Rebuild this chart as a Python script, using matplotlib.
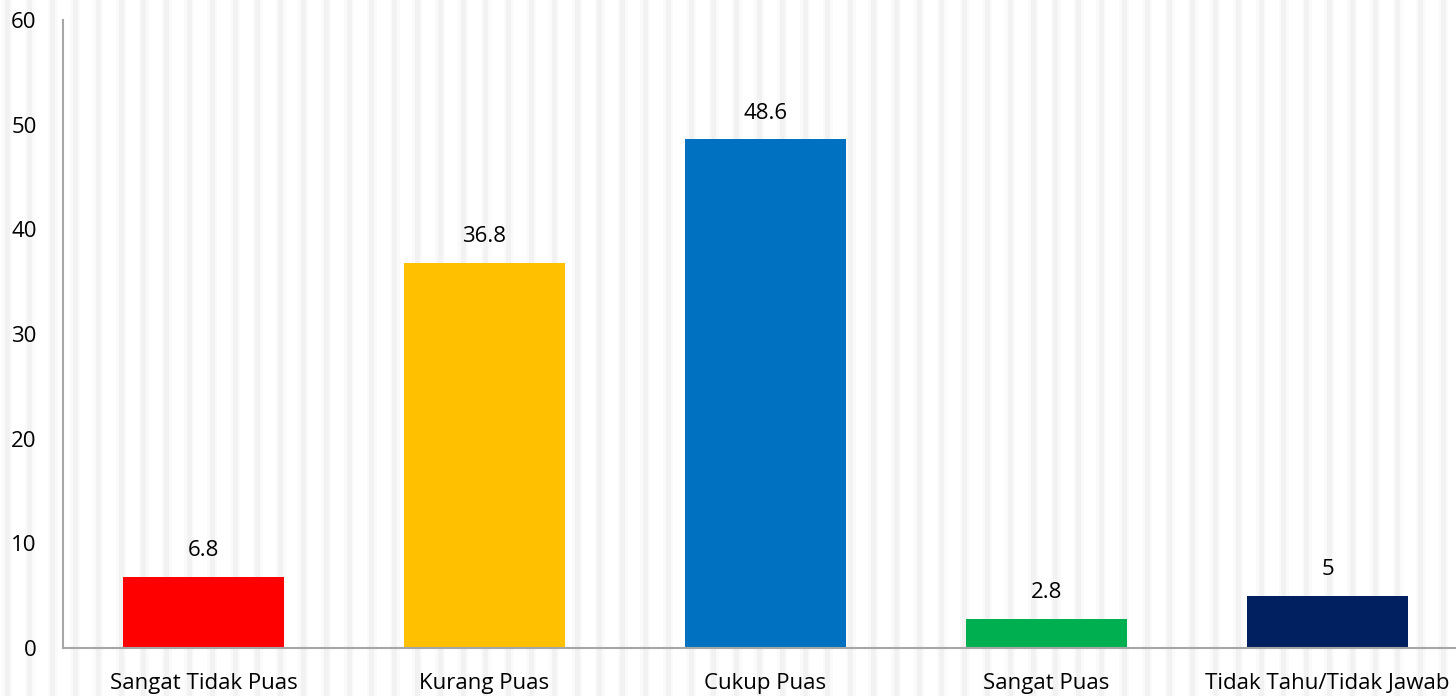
import numpy as np
import matplotlib.pyplot as plt
from matplotlib.patches import Rectangle

categories = ['Sangat Tidak Puas', 'Kurang Puas', 'Cukup Puas', 'Sangat Puas', 'Tidak Tahu/Tidak Jawab']
values = [6.8, 36.8, 48.6, 2.8, 5]
labels = ['6.8', '36.8', '48.6', '2.8', '5']
colors = ['#ff0000', '#ffc000', '#0070c0', '#00b050', '#002060']
yticks = [0, 10, 20, 30, 40, 50, 60]

plt.rcParams['font.family'] = ['Open Sans', 'DejaVu Sans']

W, H = 1456, 696
fig = plt.figure(figsize=(W / 100, H / 100), dpi=100)

# faint vertical stripes over the whole background
for x0 in np.arange(7, W, 22.8):
    fig.patches.append(Rectangle((x0 - 5, 0), 10, H, transform=None,
                                 facecolor='#fafafa', edgecolor='none', zorder=-10))
    fig.patches.append(Rectangle((x0 - 2.5, 0), 5, H, transform=None,
                                 facecolor='#f2f2f2', edgecolor='none', zorder=-9))

ax = fig.add_axes([63 / W, 48 / H, 1405 / W, 628 / H])
ax.patch.set_alpha(0)

x = np.arange(len(categories))
ax.bar(x, values, width=0.573, color=colors, zorder=2)
for xi, v, t in zip(x, values, labels):
    ax.text(xi, v + 1.5, t, ha='center', va='bottom', fontsize=16, color='#000000')

ax.set_xlim(-0.5, len(categories) - 0.5)
ax.set_ylim(0, 60)
ax.set_yticks(yticks)
ax.set_xticks(x)
ax.set_xticklabels(categories)
ax.tick_params(axis='both', length=0, labelsize=16, colors='#000000')
ax.tick_params(axis='x', pad=18)
ax.tick_params(axis='y', pad=19)
for side in ['top', 'right']:
    ax.spines[side].set_visible(False)
for side in ['left', 'bottom']:
    ax.spines[side].set_color('#a6a6a6')
    ax.spines[side].set_linewidth(1.5)

fig.savefig('out.png', dpi=100)
